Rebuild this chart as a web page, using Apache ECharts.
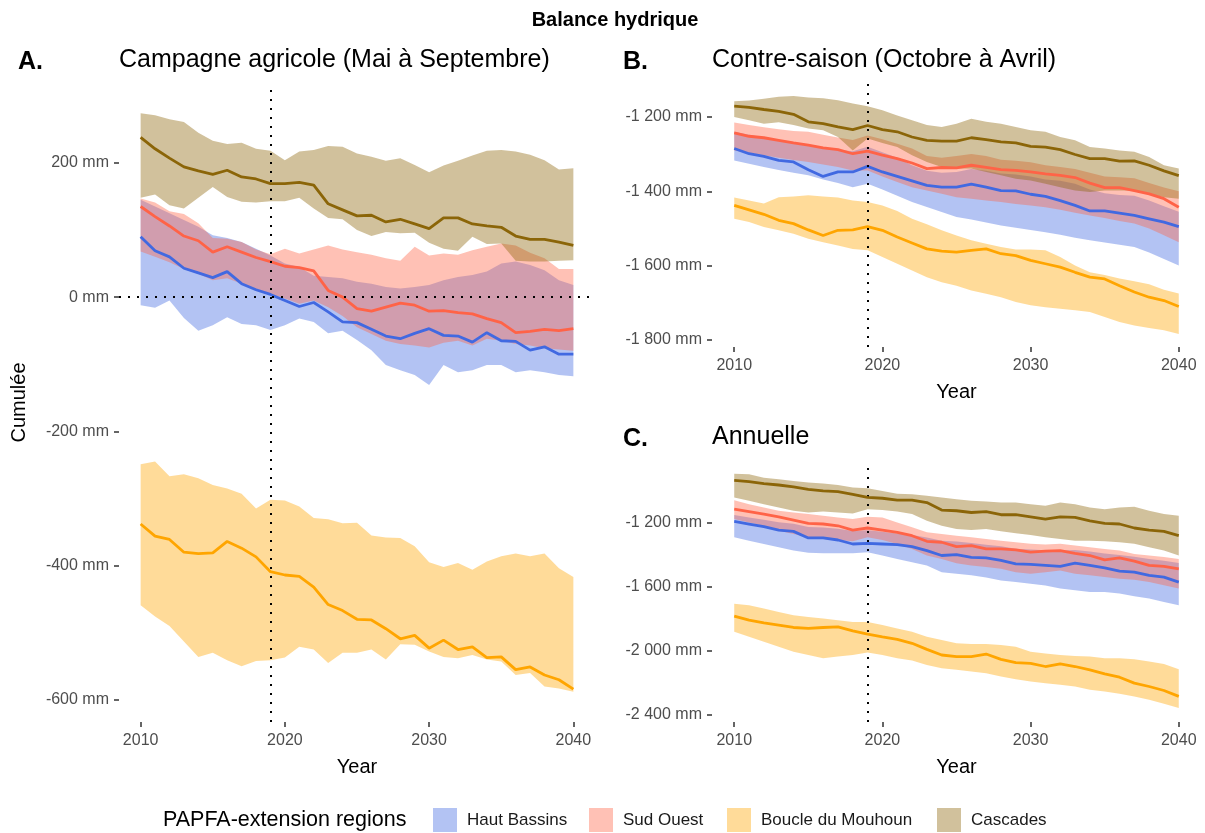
<!DOCTYPE html>
<html>
<head>
<meta charset="utf-8">
<script src="https://cdn.jsdelivr.net/npm/echarts@6/dist/echarts.min.js"></script>
<style>
  html, body { margin: 0; padding: 0; background: #fff; }
  #chart { width: 1205px; height: 833px; }
</style>
</head>
<body>
<div id="chart"></div>
<script>
// annees
const years = [2010,2011,2012,2013,2014,2015,2016,2017,2018,2019,2020,2021,2022,2023,2024,2025,2026,2027,2028,2029,2030,2031,2032,2033,2034,2035,2036,2037,2038,2039,2040];
const regions = ['Haut Bassins', 'Sud Ouest', 'Boucle du Mouhoun', 'Cascades'];
const xTicks = [2010, 2020, 2030, 2040];
const yTicksA = [-600, -400, -200, 0, 200];
const yTicksB = [-1800, -1600, -1400, -1200];
const yTicksC = [-2400, -2000, -1600, -1200];

// A. Campagne agricole (Mai a Septembre)
const A_HB_mean = [90,69,60,43,36,29,38,20,11,4,-5,-14,-8,-22,-37,-38,-48,-58,-62,-54,-47,-57,-58,-67,-53,-65,-66,-79,-74,-85,-85];
const A_HB_hi = [145,135,125,115,105,92,88,82,72,62,50,45,32,30,28,23,20,15,13,15,18,25,30,33,38,50,53,48,40,25,18];
const A_HB_lo = [-12,-16,-5,-31,-50,-42,-30,-40,-42,-49,-42,-32,-37,-54,-50,-64,-79,-101,-109,-116,-131,-101,-112,-109,-101,-101,-112,-109,-112,-116,-118];
const A_SO_mean = [135,120,106,91,84,67,75,67,59,53,46,44,39,10,0,-17,-21,-15,-9,-12,-21,-20,-23,-25,-32,-38,-53,-51,-48,-50,-47];
const A_SO_hi = [147,141,128,124,110,88,87,82,71,64,72,65,71,77,71,67,63,58,54,75,62,65,63,70,75,80,77,66,58,42,42];
const A_SO_lo = [68,60,52,42,35,25,28,20,12,5,-2,-10,-5,-15,-28,-45,-55,-65,-70,-72,-75,-68,-65,-72,-62,-65,-70,-72,-76,-78,-80];
const A_BM_mean = [-338,-356,-361,-380,-382,-381,-364,-374,-387,-409,-414,-416,-432,-458,-467,-480,-481,-494,-509,-504,-523,-511,-525,-521,-537,-536,-555,-551,-563,-570,-584];
const A_BM_hi = [-249,-245,-267,-264,-270,-280,-285,-293,-315,-302,-303,-312,-329,-331,-337,-336,-355,-358,-359,-371,-395,-402,-396,-406,-394,-386,-382,-386,-382,-404,-417];
const A_BM_lo = [-459,-476,-490,-513,-536,-530,-541,-550,-542,-541,-537,-521,-525,-545,-530,-530,-525,-540,-517,-518,-528,-536,-538,-533,-540,-543,-563,-560,-580,-583,-588];
const A_CA_mean = [238,221,207,194,188,183,189,179,176,169,169,171,167,139,130,121,122,112,116,109,102,118,118,109,106,104,91,86,86,82,77];
const A_CA_hi = [274,271,265,261,245,233,228,230,221,218,204,217,219,225,224,214,209,203,207,197,186,196,203,211,218,219,217,212,204,190,192];
const A_CA_lo = [148,153,137,132,148,164,149,142,141,143,143,148,132,118,116,100,91,97,95,96,81,72,69,90,79,80,54,53,53,54,55];

// B. Contre-saison (Octobre a Avril)
const B_HB_mean = [-1285,-1299,-1306,-1317,-1321,-1342,-1360,-1348,-1348,-1333,-1348,-1360,-1372,-1384,-1389,-1389,-1381,-1389,-1398,-1399,-1408,-1414,-1425,-1438,-1453,-1453,-1459,-1465,-1474,-1483,-1495];
const B_HB_hi = [-1240,-1248,-1255,-1262,-1268,-1275,-1282,-1288,-1292,-1280,-1295,-1310,-1330,-1345,-1350,-1348,-1340,-1345,-1352,-1355,-1360,-1368,-1372,-1380,-1395,-1405,-1410,-1412,-1425,-1440,-1455];
const B_HB_lo = [-1317,-1326,-1335,-1343,-1350,-1357,-1368,-1378,-1389,-1380,-1395,-1412,-1429,-1442,-1456,-1469,-1476,-1484,-1492,-1498,-1504,-1510,-1517,-1525,-1532,-1538,-1544,-1550,-1565,-1582,-1600];
const B_SO_mean = [-1243,-1252,-1256,-1263,-1270,-1276,-1283,-1288,-1299,-1292,-1303,-1312,-1324,-1339,-1336,-1337,-1330,-1336,-1342,-1344,-1348,-1353,-1357,-1363,-1378,-1390,-1390,-1398,-1407,-1420,-1443];
const B_SO_hi = [-1215,-1222,-1228,-1233,-1238,-1240,-1248,-1255,-1262,-1250,-1260,-1272,-1285,-1305,-1310,-1305,-1300,-1305,-1315,-1318,-1322,-1330,-1335,-1340,-1350,-1360,-1362,-1365,-1378,-1390,-1400];
const B_SO_lo = [-1290,-1297,-1303,-1310,-1316,-1321,-1328,-1335,-1344,-1344,-1360,-1375,-1389,-1398,-1407,-1416,-1420,-1425,-1429,-1434,-1438,-1443,-1450,-1458,-1465,-1472,-1480,-1487,-1500,-1518,-1537];
const B_BM_mean = [-1438,-1450,-1462,-1478,-1487,-1504,-1519,-1505,-1504,-1495,-1505,-1523,-1539,-1555,-1561,-1564,-1559,-1555,-1568,-1573,-1586,-1595,-1604,-1618,-1631,-1636,-1654,-1671,-1685,-1694,-1710];
const B_BM_hi = [-1417,-1425,-1433,-1416,-1414,-1411,-1414,-1417,-1425,-1429,-1438,-1453,-1474,-1489,-1505,-1519,-1532,-1541,-1550,-1557,-1557,-1559,-1577,-1600,-1618,-1625,-1635,-1642,-1650,-1665,-1675];
const B_BM_lo = [-1474,-1483,-1496,-1505,-1514,-1528,-1537,-1546,-1555,-1559,-1577,-1595,-1613,-1631,-1645,-1654,-1667,-1676,-1685,-1698,-1707,-1712,-1716,-1720,-1725,-1738,-1752,-1761,-1768,-1774,-1784];
const B_CA_mean = [-1171,-1174,-1180,-1185,-1193,-1213,-1218,-1227,-1234,-1223,-1234,-1240,-1254,-1263,-1265,-1265,-1256,-1261,-1267,-1270,-1279,-1281,-1288,-1301,-1312,-1312,-1319,-1318,-1330,-1345,-1358];
const B_CA_hi = [-1158,-1156,-1151,-1146,-1144,-1148,-1150,-1155,-1164,-1171,-1182,-1196,-1209,-1222,-1227,-1218,-1205,-1213,-1218,-1227,-1236,-1240,-1254,-1263,-1281,-1285,-1290,-1294,-1308,-1330,-1339];
const B_CA_lo = [-1200,-1209,-1218,-1214,-1222,-1231,-1236,-1254,-1290,-1258,-1270,-1281,-1303,-1321,-1335,-1339,-1339,-1348,-1357,-1366,-1371,-1380,-1389,-1398,-1402,-1398,-1398,-1398,-1407,-1416,-1420];

// C. Annuelle
const C_HB_mean = [-1190,-1206,-1223,-1244,-1252,-1293,-1293,-1306,-1331,-1327,-1331,-1335,-1347,-1372,-1403,-1397,-1414,-1418,-1434,-1455,-1459,-1465,-1471,-1451,-1465,-1480,-1500,-1507,-1527,-1538,-1569];
const C_HB_hi = [-1150,-1165,-1180,-1195,-1205,-1225,-1228,-1235,-1250,-1245,-1255,-1265,-1275,-1290,-1310,-1315,-1325,-1335,-1345,-1360,-1365,-1370,-1372,-1368,-1378,-1390,-1400,-1410,-1425,-1435,-1450];
const C_HB_lo = [-1289,-1310,-1331,-1352,-1372,-1385,-1389,-1389,-1389,-1383,-1403,-1424,-1445,-1466,-1507,-1517,-1527,-1541,-1559,-1569,-1579,-1590,-1610,-1620,-1631,-1631,-1641,-1658,-1672,-1693,-1714];
const C_SO_mean = [-1113,-1128,-1144,-1161,-1181,-1202,-1206,-1217,-1244,-1231,-1244,-1258,-1279,-1314,-1320,-1347,-1341,-1362,-1362,-1368,-1382,-1376,-1372,-1389,-1403,-1430,-1418,-1438,-1465,-1471,-1486];
const C_SO_hi = [-1057,-1082,-1103,-1123,-1134,-1144,-1155,-1165,-1175,-1161,-1165,-1196,-1227,-1258,-1268,-1279,-1289,-1300,-1310,-1320,-1330,-1334,-1330,-1341,-1351,-1362,-1372,-1393,-1403,-1413,-1424];
const C_SO_lo = [-1175,-1196,-1217,-1248,-1268,-1289,-1299,-1306,-1314,-1289,-1306,-1331,-1362,-1403,-1424,-1451,-1465,-1475,-1486,-1507,-1517,-1507,-1496,-1517,-1527,-1538,-1548,-1554,-1569,-1589,-1610];
const C_BM_mean = [-1782,-1807,-1824,-1838,-1853,-1859,-1853,-1849,-1874,-1894,-1911,-1927,-1952,-1990,-2025,-2035,-2035,-2019,-2052,-2073,-2077,-2097,-2081,-2097,-2118,-2143,-2164,-2201,-2222,-2247,-2284];
const C_BM_hi = [-1704,-1714,-1735,-1756,-1776,-1787,-1797,-1808,-1818,-1818,-1838,-1859,-1880,-1911,-1932,-1952,-1956,-1956,-1962,-1973,-2004,-2015,-2025,-2031,-2035,-2045,-2045,-2052,-2066,-2081,-2114];
const C_BM_lo = [-1880,-1911,-1942,-1973,-2004,-2025,-2046,-2035,-2025,-2010,-2025,-2046,-2060,-2087,-2108,-2118,-2129,-2139,-2160,-2176,-2190,-2201,-2211,-2222,-2243,-2253,-2267,-2284,-2305,-2330,-2357];
const C_CA_mean = [-933,-941,-953,-962,-974,-989,-999,-1003,-1020,-1040,-1045,-1057,-1057,-1072,-1119,-1123,-1134,-1128,-1148,-1148,-1161,-1175,-1161,-1165,-1186,-1202,-1206,-1231,-1244,-1252,-1279];
const C_CA_hi = [-891,-895,-916,-926,-937,-947,-953,-962,-978,-982,-999,-1016,-1020,-1030,-1040,-1051,-1061,-1065,-1072,-1072,-1082,-1092,-1072,-1082,-1103,-1113,-1103,-1098,-1123,-1144,-1154];
const C_CA_lo = [-1040,-1061,-1082,-1103,-1123,-1134,-1128,-1134,-1140,-1113,-1119,-1128,-1144,-1186,-1217,-1237,-1243,-1237,-1252,-1264,-1275,-1289,-1300,-1310,-1310,-1314,-1320,-1330,-1351,-1372,-1403];

const lineColors = ['#4169E1', '#FF6347', '#FFA500', '#8B6508'];
const bandColors = ['rgba(65,105,225,0.4)', 'rgba(255,99,71,0.4)', 'rgba(255,165,0,0.4)', 'rgba(139,101,8,0.4)'];
const legendKeys = ['#b3c3f3', '#ffc1b5', '#ffdb99', '#d1c19c'];
const font = 'Liberation Sans';

const panels = [
  { mean: [A_HB_mean, A_SO_mean, A_BM_mean, A_CA_mean], lo: [A_HB_lo, A_SO_lo, A_BM_lo, A_CA_lo], hi: [A_HB_hi, A_SO_hi, A_BM_hi, A_CA_hi] },
  { mean: [B_HB_mean, B_SO_mean, B_BM_mean, B_CA_mean], lo: [B_HB_lo, B_SO_lo, B_BM_lo, B_CA_lo], hi: [B_HB_hi, B_SO_hi, B_BM_hi, B_CA_hi] },
  { mean: [C_HB_mean, C_SO_mean, C_BM_mean, C_CA_mean], lo: [C_HB_lo, C_SO_lo, C_BM_lo, C_CA_lo], hi: [C_HB_hi, C_SO_hi, C_BM_hi, C_CA_hi] }
];

function mm(v) {
  const s = String(Math.abs(v)).replace(/\B(?=(\d{3})+(?!\d))/g, ' ');
  return (v < 0 ? '-' : '') + s + ' mm';
}

// ruban min-max : un seul polygone par region, place via api.coord
function ribbon(lo, hi, color) {
  return function (params, api) {
    if (params.dataIndex !== 0) return null;
    const pts = [];
    for (let i = 0; i < years.length; i++) pts.push(api.coord([years[i], hi[i]]));
    for (let i = years.length - 1; i >= 0; i--) pts.push(api.coord([years[i], lo[i]]));
    return { type: 'polygon', shape: { points: pts }, style: { fill: color } };
  };
}

const series = [];
panels.forEach((p, g) => {
  regions.forEach((r, k) => {
    series.push({
      type: 'custom', name: r, xAxisIndex: g, yAxisIndex: g, silent: true, z: 2,
      renderItem: ribbon(p.lo[k], p.hi[k], bandColors[k]),
      encode: { x: 0, y: [1, 2] },
      data: years.map((y, i) => [y, p.lo[k][i], p.hi[k][i]])
    });
  });
  regions.forEach((r, k) => {
    const s = {
      type: 'line', name: r + ' moyenne', xAxisIndex: g, yAxisIndex: g,
      symbol: 'none', silent: true, z: 3,
      lineStyle: { color: lineColors[k], width: 2.8 },
      emphasis: { disabled: true },
      data: years.map((y, i) => [y, p.mean[k][i]])
    };
    if (k === regions.length - 1) {
      s.z = 5;
      s.markLine = {
        silent: true, symbol: ['none', 'none'], label: { show: false },
        lineStyle: { color: '#000', type: [2, 7], width: 2 },
        data: g === 0 ? [{ xAxis: 2019 }, { yAxis: 0 }] : [{ xAxis: 2019 }]
      };
    }
    series.push(s);
  });
});

const grids = [
  { left: 119, top: 83, width: 476, height: 639 },
  { left: 712, top: 82, width: 489, height: 265 },
  { left: 712, top: 461, width: 489, height: 261 }
];
const yRanges = [[-633, 319], [-1819, -1106], [-2444, -812]];
const yTicks = [yTicksA, yTicksB, yTicksC];

const xAxes = grids.map((gr, g) => ({
  type: 'value', gridIndex: g, min: 2008.5, max: 2041.5,
  axisLine: { show: false, onZero: false }, splitLine: { show: false },
  axisTick: { show: true, customValues: xTicks, length: 5, lineStyle: { color: '#333', width: 1.5 } },
  axisLabel: { customValues: xTicks, margin: 11, fontSize: 16, color: '#4d4d4d', fontFamily: font,
    formatter: v => String(v) },
  name: 'Year', nameLocation: 'middle', nameGap: 35,
  nameTextStyle: { fontSize: 20, color: '#000', fontFamily: font }
}));
const yAxes = grids.map((gr, g) => ({
  type: 'value', gridIndex: g, min: yRanges[g][0], max: yRanges[g][1],
  axisLine: { show: false, onZero: false }, splitLine: { show: false },
  axisTick: { show: true, customValues: yTicks[g], length: 5, lineStyle: { color: '#333', width: 1.5 } },
  axisLabel: { customValues: yTicks[g], margin: 10, fontSize: 16, color: '#4d4d4d', fontFamily: font, formatter: mm },
  name: g === 0 ? 'Cumulée' : '', nameLocation: 'middle', nameGap: 90, nameRotate: 90,
  nameTextStyle: { fontSize: 20, color: '#000', fontFamily: font }
}));

function txt(x, y, text, size, bold) {
  return { type: 'text', x: x, y: y, silent: true,
    style: { text: text, fontSize: size, fontWeight: bold ? 'bold' : 'normal', fontFamily: font,
      fill: '#000', verticalAlign: 'middle', align: 'left' } };
}

const legendX = [433, 589, 727, 937];
const legends = regions.map((r, k) => ({
  left: legendX[k], top: 808, orient: 'horizontal', selectedMode: false,
  icon: 'rect', itemWidth: 24, itemHeight: 24, padding: 0,
  textStyle: { fontSize: 17, color: '#1a1a1a', fontFamily: font, padding: [0, 0, 0, 5] },
  data: [{ name: r, itemStyle: { color: legendKeys[k], opacity: 1 } }]
}));

const chart = echarts.init(document.getElementById('chart'));
chart.setOption({
  animation: false,
  backgroundColor: '#fff',
  grid: grids,
  xAxis: xAxes,
  yAxis: yAxes,
  legend: legends,
  series: series,
  graphic: [
    { type: 'text', x: 615, y: 20, silent: true,
      style: { text: 'Balance hydrique', fontSize: 20, fontWeight: 'bold', fontFamily: font,
        fill: '#000', verticalAlign: 'middle', align: 'center' } },
    txt(18, 62, 'A.', 25, true),
    txt(119, 60, 'Campagne agricole (Mai à Septembre)', 25, false),
    txt(623, 62, 'B.', 25, true),
    txt(712, 60, 'Contre-saison (Octobre à Avril)', 25, false),
    txt(623, 439, 'C.', 25, true),
    txt(712, 437, 'Annuelle', 25, false),
    txt(163, 820, 'PAPFA-extension regions', 21.5, false)
  ]
});
</script>
</body>
</html>
